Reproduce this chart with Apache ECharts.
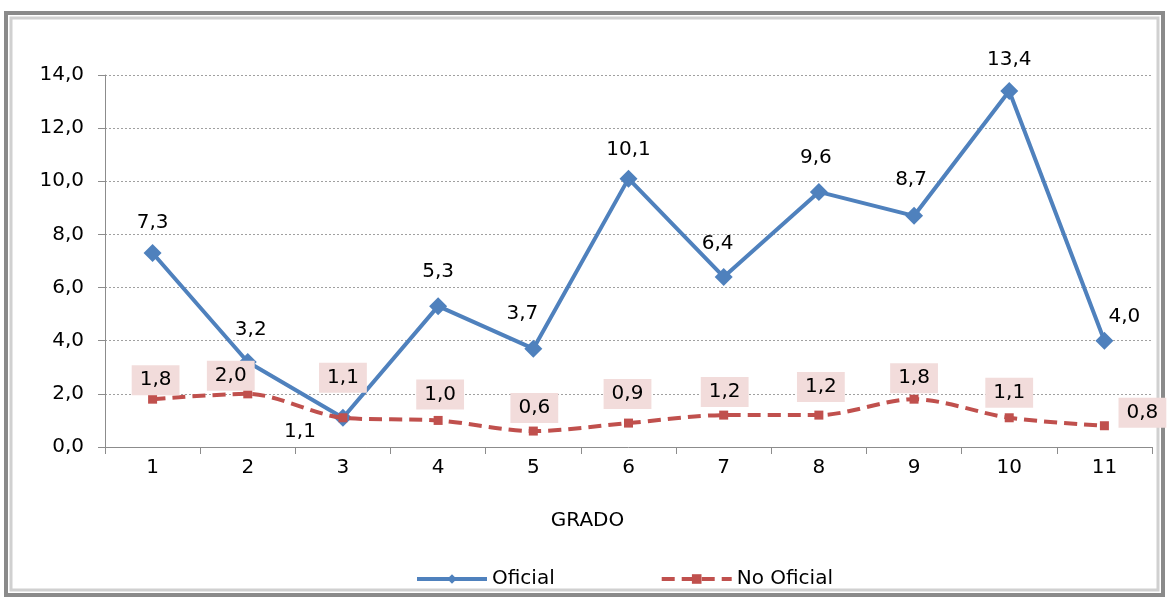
<!DOCTYPE html>
<html>
<head>
<meta charset="utf-8">
<script src="https://cdn.jsdelivr.net/npm/echarts@6/dist/echarts.min.js"></script>
<style>
  html, body { margin: 0; padding: 0; background: #fff; }
  #chart { width: 1172px; height: 598px; }
</style>
</head>
<body>
<div id="chart"></div>
<script>
// chart data
const grados = ['1', '2', '3', '4', '5', '6', '7', '8', '9', '10', '11'];
const oficial = [7.3, 3.2, 1.1, 5.3, 3.7, 10.1, 6.4, 9.6, 8.7, 13.4, 4.0];
const noOficial = [1.8, 2.0, 1.1, 1.0, 0.6, 0.9, 1.2, 1.2, 1.8, 1.1, 0.8];

// label nudges (px from the point centre)
const oficialLabelOffsets = [
  [0, -30], [3, -32], [-43, 14], [0, -34], [-11, -35], [0, -29],
  [-6, -33], [-3, -34], [-3, -36], [0, -31], [20, -24]
];
const noOficialLabelOffsets = [
  [3, -19], [-17, -18], [0, -40], [2, -26], [1, -23], [-1, -29],
  [1, -23], [2, -28], [0, -21], [0, -25], [38, -13]
];

const font = 'DejaVu Sans, sans-serif';
const fmt = v => Number(v).toFixed(1).replace('.', ',');

const myChart = echarts.init(document.getElementById('chart'));

const option = {
  animation: false,
  textStyle: { fontFamily: font },
  grid: { left: 105, right: 20, top: 75, bottom: 151 },
  legend: {
    left: 410,
    top: 564,
    itemWidth: 70,
    itemHeight: 12,
    itemGap: 105,
    lineStyle: { width: 4 },
    textStyle: { fontFamily: font, fontSize: 20, color: '#000' },
    data: ['Oficial', 'No Oficial']
  },
  graphic: [
    {
      type: 'rect',
      silent: true,
      shape: { x: 6, y: 13, width: 1157, height: 582 },
      style: { fill: 'none', stroke: '#8a8a8a', lineWidth: 4 }
    },
    {
      type: 'rect',
      silent: true,
      shape: { x: 11, y: 18, width: 1147, height: 572 },
      style: { fill: 'none', stroke: '#d0d0d0', lineWidth: 3 }
    }
  ],
  xAxis: {
    type: 'category',
    data: grados,
    name: 'GRADO',
    nameLocation: 'middle',
    nameGap: 64,
    nameTextStyle: { fontFamily: font, fontSize: 20, color: '#000', padding: [0, 82, 0, 0] },
    axisLine: { lineStyle: { color: '#8c8c8c', width: 1 } },
    axisTick: { show: true, length: 7, lineStyle: { color: '#8c8c8c' } },
    axisLabel: { fontFamily: font, fontSize: 20, color: '#000', margin: 11 }
  },
  yAxis: {
    type: 'value',
    min: 0,
    max: 14,
    interval: 2,
    axisLine: { show: true, lineStyle: { color: '#8c8c8c', width: 1 } },
    axisTick: { show: true, length: 7, lineStyle: { color: '#8c8c8c' } },
    axisLabel: { fontFamily: font, fontSize: 20, color: '#000', margin: 21, formatter: fmt },
    splitLine: { lineStyle: { color: '#a0a0a0', type: [2, 2], width: 1 } }
  },
  series: [
    {
      name: 'Oficial',
      type: 'line',
      data: oficial.map((v, i) => ({
        value: v,
        label: { offset: oficialLabelOffsets[i] }
      })),
      symbol: 'diamond',
      symbolSize: 18,
      itemStyle: { color: '#4F81BD' },
      lineStyle: { color: '#4F81BD', width: 4 },
      label: {
        show: true,
        position: 'inside',
        fontFamily: font,
        fontSize: 20,
        color: '#000',
        formatter: p => fmt(p.value)
      },
      z: 3
    },
    {
      name: 'No Oficial',
      type: 'line',
      smooth: 0.3,
      data: noOficial.map((v, i) => ({
        value: v,
        label: { offset: noOficialLabelOffsets[i] }
      })),
      symbol: 'rect',
      symbolSize: 9,
      itemStyle: { color: '#C0504D' },
      lineStyle: { color: '#C0504D', width: 4, type: [13, 7] },
      label: {
        show: true,
        position: 'inside',
        fontFamily: font,
        fontSize: 20,
        lineHeight: 20,
        color: '#000',
        backgroundColor: '#F2DCDB',
        padding: [5, 8, 5, 8],
        formatter: p => fmt(p.value)
      },
      z: 4
    }
  ]
};

myChart.setOption(option);
</script>
</body>
</html>
